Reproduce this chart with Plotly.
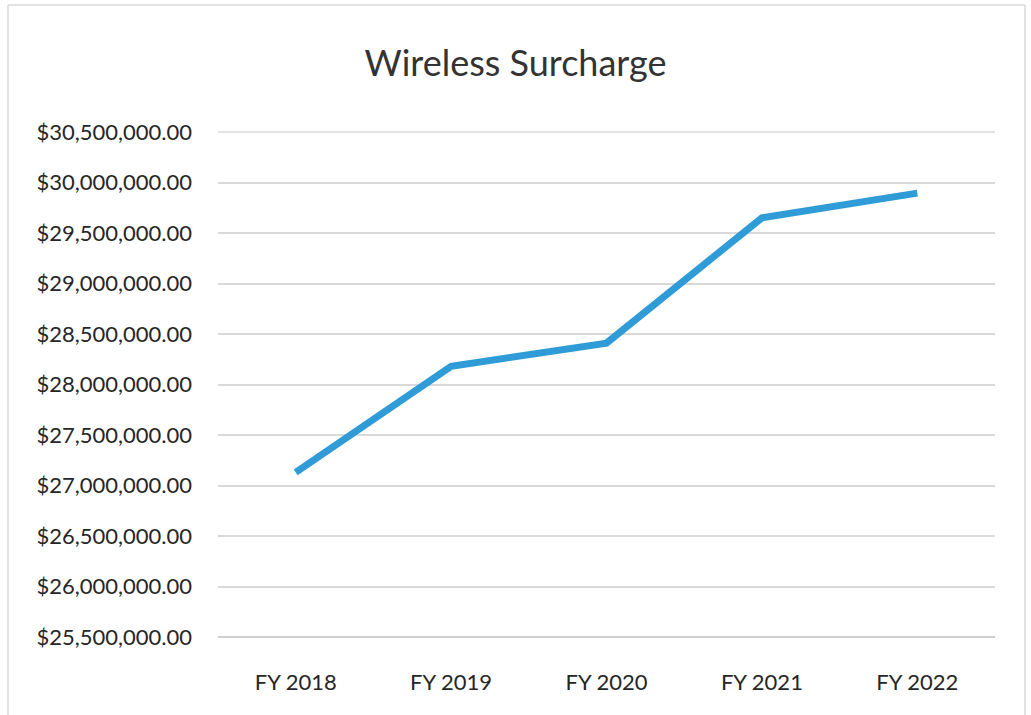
import plotly.graph_objects as go

categories = ["FY 2018", "FY 2019", "FY 2020", "FY 2021", "FY 2022"]
surcharge = [27130000, 28180000, 28410000, 29650000, 29895000]
tick_vals = [25500000 + 500000 * i for i in range(11)]
tick_text = ["${:,.2f}".format(v) for v in tick_vals]

FONT = "Lato, 'Open Sans', sans-serif"

fig = go.Figure()
fig.add_trace(go.Scatter(
    x=categories, y=surcharge, mode="lines",
    line=dict(color="#2F9BD7", width=7),
    hoverinfo="x+y",
))

L, R, T, B = 218, 36, 132, 78
W, H = 1031, 715
pw, ph = W - L - R, H - T - B

def px_x(px):
    return (px - L) / pw

def px_y(py):
    return (H - B - py) / ph

border = dict(type="line", xref="paper", yref="paper", line=dict(color="#D9D9D9", width=1.5))
shapes = [
    dict(border, x0=px_x(8), x1=px_x(8), y0=px_y(715), y1=px_y(5)),
    dict(border, x0=px_x(8), x1=px_x(1025), y0=px_y(5), y1=px_y(5)),
    dict(border, x0=px_x(1025), x1=px_x(1025), y0=px_y(5), y1=px_y(715)),
    dict(type="line", xref="paper", yref="paper", x0=0, x1=1, y0=1, y1=1,
         line=dict(color="#D9D9D9", width=1.5), layer="below"),
    dict(type="line", xref="paper", yref="paper", x0=0, x1=1, y0=0, y1=0,
         line=dict(color="#BFBFBF", width=1.5), layer="below"),
]

fig.update_layout(
    width=W, height=H,
    margin=dict(l=L, r=R, t=T, b=B),
    paper_bgcolor="white", plot_bgcolor="white",
    showlegend=False,
    title=dict(text="Wireless Surcharge", x=0.5, xanchor="center", y=1 - 63 / H, yanchor="middle",
               font=dict(family=FONT, size=36, color="#333333")),
    font=dict(family=FONT, color="#333333"),
    xaxis=dict(range=[-0.5, 4.5], showgrid=False, showline=False, ticks="",
               tickfont=dict(size=22, color="#262626"),
               ticklabelstandoff=30, fixedrange=True),
    yaxis=dict(range=[25500000, 30500000], tickvals=tick_vals, ticktext=tick_text,
               showgrid=True, gridcolor="#D9D9D9", gridwidth=1.5,
               zeroline=False, showline=False, ticks="",
               tickfont=dict(size=22, color="#262626"), ticklabelstandoff=25, fixedrange=True),
    shapes=shapes,
)

fig.write_html("out.html", config={"displayModeBar": False},
               post_script="document.body.style.margin='0';")
